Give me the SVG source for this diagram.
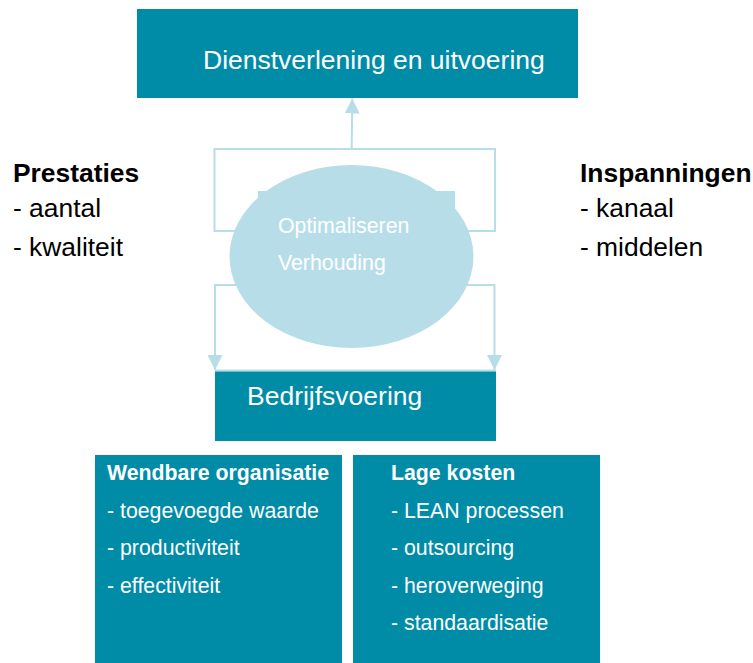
<svg xmlns="http://www.w3.org/2000/svg" width="753" height="663" viewBox="0 0 753 663">
<style>
.box{fill:#008BA7}
.light{fill:#B7DEE8}
.conn{fill:none;stroke:#B7DEE8;stroke-width:2}
text{font-family:"Liberation Sans",Arial,sans-serif}
.wt{fill:#ffffff}
.big{font-size:26.5px}
.lbl{font-size:26.4px;fill:#000000}
.sm{font-size:21.3px}
.b{font-weight:bold}
</style>
<defs>
<marker id="arr" viewBox="0 0 15 15" refX="15" refY="7.5" markerWidth="15" markerHeight="15" markerUnits="userSpaceOnUse" orient="auto">
<path d="M0,0 L15,7.5 L0,15 z" fill="#B7DEE8"/>
</marker>
</defs>
<rect width="753" height="663" fill="#ffffff"/>
<g id="connectors">
<line class="conn" x1="351.7" y1="149" x2="352.3" y2="98.5" marker-end="url(#arr)"/>
<polyline class="conn" points="245,231 214.5,231 214.5,149 495,149 495,231 460,231"/>
<polyline class="conn" points="245,285 215,285 215,370" marker-end="url(#arr)"/>
<polyline class="conn" points="460,285 494.5,285 494.5,370" marker-end="url(#arr)"/>
<line class="conn" x1="215" y1="370.5" x2="496" y2="370.5"/>
</g>
<g id="dienstverlening">
<rect class="box" x="137" y="9" width="441" height="89"/>
<text class="wt big" x="203" y="69">Dienstverlening en uitvoering</text>
</g>
<g id="optimaliseren">
<rect class="light" x="258" y="191" width="197" height="20"/>
<ellipse class="light" cx="351.5" cy="256.5" rx="122" ry="91.5"/>
<text class="wt sm" x="278" y="233">Optimaliseren</text>
<text class="wt sm" x="278" y="270">Verhouding</text>
</g>
<g id="bedrijfsvoering">
<rect class="box" x="215" y="371.5" width="281" height="69.5"/>
<text class="wt big" x="247" y="405">Bedrijfsvoering</text>
</g>
<g id="prestaties">
<text class="lbl b" x="13" y="182">Prestaties</text>
<text class="lbl" x="13" y="217">- aantal</text>
<text class="lbl" x="13" y="256">- kwaliteit</text>
</g>
<g id="inspanningen">
<text class="lbl b" x="580" y="182">Inspanningen</text>
<text class="lbl" x="580" y="217">- kanaal</text>
<text class="lbl" x="580" y="256">- middelen</text>
</g>
<g id="wendbare">
<rect class="box" x="95" y="455" width="247" height="208"/>
<text class="wt sm b" x="107" y="480">Wendbare organisatie</text>
<text class="wt sm" x="107" y="517.5">- toegevoegde waarde</text>
<text class="wt sm" x="107" y="555">- productiviteit</text>
<text class="wt sm" x="107" y="592.5">- effectiviteit</text>
</g>
<g id="lagekosten">
<rect class="box" x="353" y="455" width="247" height="208"/>
<text class="wt sm b" x="391" y="480">Lage kosten</text>
<text class="wt sm" x="391" y="517.5">- LEAN processen</text>
<text class="wt sm" x="391" y="555">- outsourcing</text>
<text class="wt sm" x="391" y="592.5">- heroverweging</text>
<text class="wt sm" x="391" y="630">- standaardisatie</text>
</g>
</svg>
